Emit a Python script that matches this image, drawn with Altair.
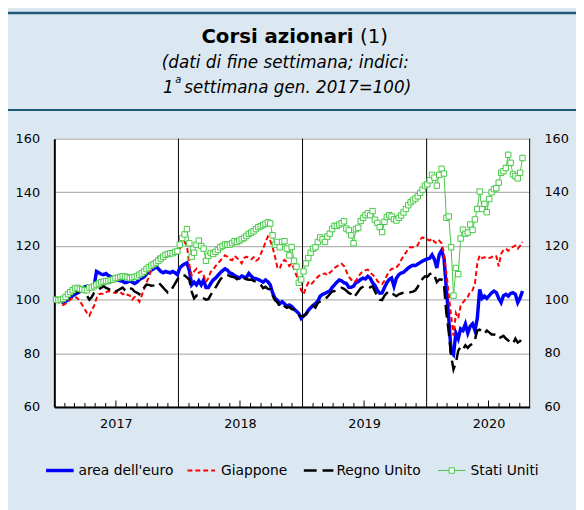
import altair as alt
import pandas as pd

# ---------------- data (weekly, end of week; index 1st week Jan 2017 = 100) ----------------
euro_2017 = [100, 100, 99.5, 99, 99.3, 100, 100.5, 101.5, 102, 102.5, 103, 104, 104.8, 105, 104.7, 104.3, 105,
             110.5, 110, 109.5, 109.3, 109.7, 109, 108.5, 108, 107.5, 107.3, 107, 106.8, 106.3, 106.5, 107,
             106.5, 106, 106.5, 107.5, 108, 108.5, 109.5, 110.5, 111, 111.5, 112.3, 111.5, 110.5, 110, 110.5,
             110.2, 110, 110.5, 110, 109.3]
euro_2018 = [111.8, 112.7, 113.3, 113.7, 111, 105.5, 106.5, 105.5, 107, 105.5, 107.3, 104.5, 104.5, 106, 107.3,
             108, 109, 110, 110.8, 111.5, 111, 110, 109.6, 109, 108.5, 108, 108.8, 108.5, 108.3, 109.8, 108.8,
             108, 107.8, 107.5, 107, 106.5, 107.3, 106.7, 105.5, 102.5, 100.5, 99.8, 98.5, 99.2, 98.5, 97.5, 98,
             97.5, 96.5, 95.7, 94.8, 93]
euro_2019 = [94, 94.6, 96, 97, 97.9, 98.5, 99.5, 101.3, 102, 102.3, 102.8, 103.2, 104.5, 105.5, 106.5, 107.3,
             107, 106.3, 106, 104.6, 104.6, 105, 106.3, 106.7, 107.5, 108, 107.7, 108.7, 108, 106.3, 105.3,
             103.5, 102.4, 102.5, 104.5, 106.3, 107.5, 108.1, 105, 108, 109.3, 109.9, 110.2, 111, 111.8, 112.4,
             112.8, 112.7, 113.3, 113.8, 114.4, 114.8]
euro_2020 = [115.2, 115.4, 116.7, 115, 111.8, 116.8, 118.3, 115.5, 104, 93, 80.5, 79.5, 87.5, 85.4, 89.1, 88.5,
             90.9, 87.5, 90, 91, 88.5, 93, 103.8, 100.5, 101.3, 100.5, 101.5, 102.5, 103.2, 102.6, 100.5, 98.9,
             101.5, 102, 101.3, 102.3, 102.6, 102, 98.9, 100.7, 103.2]

japan_2017 = [100, 99, 98.5, 98, 98.5, 99, 100, 100.7, 101, 100.5, 99.5, 98, 96.5, 95, 94, 96, 97.7, 100.5, 102,
              102.3, 102, 102.7, 103.2, 103, 102.6, 102.5, 103, 102.8, 102, 102.5, 101.8, 101.5, 100, 101, 100.5,
              99.2, 101.5, 104, 106.3, 108.5, 111, 113, 114.5, 116, 115, 114.8, 116.7, 117, 117.5, 118, 118.3, 119]
japan_2018 = [119, 120.5, 121.5, 120, 113, 109, 110.5, 111.5, 110, 110.5, 109, 106.5, 108, 110.4, 111, 112.5,
              113.5, 114.5, 115.5, 116.5, 116, 115, 114.7, 116.3, 115.5, 114.7, 113.5, 115.5, 116, 115.5, 115,
              115.8, 114.5, 115, 117, 119, 121.5, 123.5, 122, 119.5, 116, 112, 111.5, 114, 114.8, 114, 112.5,
              113.5, 111.5, 109, 106.5, 103.5]
japan_2019 = [102, 104.5, 106.3, 105.5, 106.5, 107.5, 108.5, 109.2, 109.5, 109.8, 109, 110, 110.8, 111.8, 112.4,
              113, 113.4, 112.5, 110.5, 108.5, 107.5, 106.5, 107, 108.5, 109.8, 110.5, 111, 111.2, 110, 109.3,
              108.5, 107, 106, 105.8, 107, 109, 110.5, 111.5, 111.5, 112, 113, 114.8, 116.3, 117.5, 119, 119.6,
              119.5, 119.8, 120.3, 122.5, 123.2, 122.8]
japan_2020 = [122.5, 122, 122.8, 121.5, 121, 122, 121, 117.3, 110, 102, 94, 86.6, 95, 93, 97.7, 99, 100, 101,
              103, 103.5, 106, 113.5, 116.5, 115.5, 115.8, 115.3, 115.5, 115.8, 116.5, 116.2, 112.4, 117, 118.5,
              119, 118.2, 119.2, 119.7, 120.2, 119, 120, 121.6]

uk_2017 = [100, 100, 100, 99.5, 100.5, 100.5, 101.5, 102.5, 102.8, 102.8, 103.2, 103, 102.6, 101.5, 100, 101,
           102.5, 103.2, 103.8, 104.5, 105, 104.4, 104, 103.5, 102.6, 103, 103.5, 104, 104.5, 103.5, 103.2, 104.2,
           104, 103, 102.6, 102, 103.5, 104.5, 105.6, 105.5, 105.2, 105.3, 106, 106.3, 105.5, 104.5, 103.5, 102.6,
           103, 104.5, 106, 107.5]
uk_2018 = [108.8, 109.2, 109, 108.3, 107.4, 103, 100.5, 101.5, 101.5, 100.8, 100.5, 100, 100.2, 101.8, 103.2,
           104.5, 106, 107.5, 108.5, 109, 109.2, 108.8, 108.5, 108.3, 107.6, 108.3, 108.6, 108, 107.6, 107.4,
           107.5, 107, 106.7, 106.3, 105.5, 104.3, 104.8, 104, 103.9, 101.5, 99.8, 99, 97.5, 98.2, 97.5, 96.9,
           97.3, 96.5, 96.3, 95.2, 94.3, 93.8]
uk_2019 = [93.8, 94.6, 95.8, 96.6, 97.7, 97, 98.8, 99.3, 99.8, 100.1, 101, 102, 103, 103.2, 103.5, 104, 104.4,
           104, 103.3, 102.5, 102, 100.8, 101.8, 103, 104.3, 104.8, 105.2, 105, 104.6, 105, 103, 101.3, 100, 99.8,
           101.5, 102.5, 103.2, 102.8, 101.8, 101.3, 102, 102.3, 102.6, 102.8, 102.5, 102.8, 103, 103.5, 104.8,
           106.5, 107.8, 108.7]
uk_2020 = [108.5, 109.5, 110, 109, 106.5, 107.5, 107.5, 105.5, 95, 88, 79, 74, 76.5, 81, 82.4, 81.5, 83, 82, 83,
           83.6, 85, 88.5, 88.8, 88, 87.3, 88.5, 87.8, 87, 87, 86.8, 85.5, 86, 86.5, 85.5, 84.8, 84.2, 83.6, 85.5,
           84, 84.5, 86]

us_2017 = [100, 99.8, 100, 100.3, 101, 102, 102.8, 103.5, 104.2, 104.4, 104, 103.8, 103.5, 103.5, 104.5, 104.5,
           105, 105.6, 106, 106.5, 106.7, 106.9, 107, 107.3, 107.5, 108, 108.2, 108.5, 108.7, 108.6, 108.4, 108,
           108.3, 108.5, 108.6, 109.3, 109.8, 110.5, 111.4, 112, 112.7, 113.2, 113.8, 114.5, 115.3, 116, 116.7,
           117, 117.3, 117.3, 117.8, 118]
us_2018 = [120.5, 123, 124.3, 126.3, 121, 116, 117.5, 120.5, 122, 120, 119, 114.5, 116.3, 117.4, 117, 117.8,
           118.5, 119.5, 120, 120.6, 120.5, 120.5, 121.1, 121.8, 121.5, 122, 122.5, 123, 123.7, 124.5, 125, 125.5,
           126.3, 127, 127.4, 127.8, 128.3, 128.8, 128.4, 124, 120.5, 121.5, 119.5, 121.5, 121.8, 119, 116.5,
           119.6, 114.5, 112.3, 106.3, 107.5]
us_2019 = [110.5, 113.5, 115.5, 117.5, 119, 119.5, 121.5, 123.2, 122.5, 121.5, 123.5, 124.6, 126.3, 127.5, 127.5,
           128, 128.5, 129.2, 126.5, 125.8, 124, 121, 126.3, 126.8, 129.3, 130.5, 131.5, 132.2, 131.5, 133, 129.8,
           128.6, 127, 125.2, 129, 130.8, 131.5, 131, 130, 129.5, 130.5, 131.4, 132.5, 133.8, 135.2, 136.3, 137,
           137.7, 138.5, 139.8, 141, 142.5]
us_2020 = [143, 144.5, 146.5, 145.5, 142.5, 146.5, 148.8, 147, 130.5, 131, 119.5, 101.5, 111.8, 109.5, 122.8,
           126.1, 124.6, 125, 128, 126, 129.9, 133.8, 140.3, 133.8, 135.7, 132.6, 137.5, 140, 141.2, 141.5, 143.6,
           147.3, 147.9, 149.1, 154, 151, 146.7, 146, 145.2, 147.3, 152.8]

series_names = ["area dell'euro", "Giappone", "Regno Unito", "Stati Uniti"]
y_ticks = [60, 80, 100, 120, 140, 160]
year_labels = ["2017", "2018", "2019", "2020"]
title_main = "Corsi azionari"
title_note = "(1)"
subtitle_1 = "(dati di fine settimana; indici:"
subtitle_2a = "1"
subtitle_2b = "a"
subtitle_2c = "settimana gen. 2017=100)"

euro = euro_2017 + euro_2018 + euro_2019 + euro_2020
japan = japan_2017 + japan_2018 + japan_2019 + japan_2020
uk = uk_2017 + uk_2018 + uk_2019 + uk_2020
us = us_2017 + us_2018 + us_2019 + us_2020
dates = pd.date_range("2017-01-06", periods=len(euro), freq="7D")

def frame(vals):
    return pd.DataFrame({"date": dates, "value": vals})

# ---------------- styling ----------------
FONT = "DejaVu Sans"
BG = "#dce8f1"
DARK = "#1d5878"
BLUE = "#0000ff"
RED = "#ff0000"
BLACK = "#000000"
GREEN = "#44c844"
W, H = 482, 272

x_scale = alt.Scale(domain=[alt.DateTime(year=2017, month=1, date=1),
                            alt.DateTime(year=2020, month=10, date=30)])
y_scale = alt.Scale(domain=[60, 160], nice=False, zero=False)

x_axis = alt.Axis(values=[alt.DateTime(year=int(s), month=7, date=1) for s in year_labels],
                  format="%Y", ticks=False, tickSize=0, grid=False, domain=True,
                  domainColor="black", domainWidth=2, labelFont=FONT, labelFontSize=13,
                  labelColor="black", labelPadding=11, title=None, labelFlush=False,
                  labelOverlap=False)
y_axis = alt.Axis(values=y_ticks, ticks=False, tickSize=0, grid=True, gridColor="#b4b4b4",
                  gridWidth=1.2, domain=True, domainColor="black", domainWidth=2,
                  labelFont=FONT, labelFontSize=13, labelColor="black", labelPadding=15,
                  title=None)

X = alt.X("date:T", scale=x_scale, axis=x_axis)
Y = alt.Y("value:Q", scale=y_scale, axis=y_axis)

# axis decorations
month_starts = [d for d in pd.date_range("2017-02-01", "2020-10-01", freq="MS") if d.month != 1]
minor = pd.DataFrame({"date": [d for d in month_starts if d.month != 7]})
major = pd.DataFrame({"date": [d for d in month_starts if d.month == 7]})
years = pd.DataFrame({"date": pd.to_datetime([f"{s}-01-01" for s in year_labels[1:]])})

minor_ticks = alt.Chart(minor).mark_rule(color="black", strokeWidth=1).encode(
    x=X, y=alt.value(H), y2=alt.value(H - 4))
major_ticks = alt.Chart(major).mark_rule(color="black", strokeWidth=1).encode(
    x=X, y=alt.value(H), y2=alt.value(H - 6.5))
year_lines = alt.Chart(years).mark_rule(color="black", strokeWidth=1).encode(
    x=X, y=alt.value(0), y2=alt.value(H))

one = pd.DataFrame({"k": [0]})
right_border = alt.Chart(one).mark_rule(color="black", strokeWidth=1).encode(
    x=alt.value(W), y=alt.value(0), y2=alt.value(H))

right_labels = alt.Chart(pd.DataFrame({"value": y_ticks, "label": [str(v) for v in y_ticks]})).mark_text(
    align="left", baseline="middle", font=FONT, fontSize=13, color="black").encode(
    x=alt.value(W + 15), y=Y, text="label:N")

# data series
euro_line = alt.Chart(frame(euro)).mark_line(color=BLUE, strokeWidth=3.5).encode(x=X, y=Y)
japan_line = alt.Chart(frame(japan)).mark_line(color=RED, strokeWidth=2, strokeDash=[5, 3]).encode(x=X, y=Y)
uk_line = alt.Chart(frame(uk)).mark_line(color=BLACK, strokeWidth=2.5, strokeDash=[13, 6]).encode(x=X, y=Y)
us_line = alt.Chart(frame(us)).mark_line(color=GREEN, strokeWidth=1).encode(x=X, y=Y)
us_pts = alt.Chart(frame(us)).mark_point(shape="square", filled=True, fill="white", stroke=GREEN,
                                         strokeWidth=1, size=30, opacity=1).encode(x=X, y=Y)

# header
def txt(s, x, y, size, align="left", weight="normal", style="normal"):
    return alt.Chart(pd.DataFrame({"t": [s]})).mark_text(
        align=align, baseline="alphabetic", font=FONT, fontSize=size, fontWeight=weight,
        fontStyle=style, color="black").encode(x=alt.value(x), y=alt.value(y), text="t:N")

def hline(x1, x2, y, color, width, dash=None):
    kw = dict(color=color, strokeWidth=width)
    if dash:
        kw["strokeDash"] = dash
    return alt.Chart(one).mark_rule(**kw).encode(x=alt.value(x1), x2=alt.value(x2), y=alt.value(y))

header = [
    hline(-47, W + 47, -127.5, DARK, 2.5),
    hline(-47, W + 47, -29, DARK, 2),
    txt(title_main, 303.3, -97, 20, align="right", weight="bold"),
    txt(title_note, 310, -97, 20),
    txt(subtitle_1, 109, -72, 17, style="italic"),
    txt(subtitle_2a, 121, -46, 17, align="right", style="italic"),
    txt(subtitle_2b, 122.5, -56, 10, style="italic"),
    txt(subtitle_2c, 131.7, -46, 17, style="italic"),
]

# legend
LY = 336.5
legend = [
    hline(-8.4, 19.6, LY, BLUE, 3.5),
    txt(series_names[0], 24.5, LY + 5, 14),
    hline(135, 163, LY, RED, 2, [5, 3]),
    txt(series_names[1], 169, LY + 5, 14),
    hline(253, 283, LY, BLACK, 2.5, [13, 6]),
    txt(series_names[2], 286, LY + 5, 14),
    hline(389, 417, LY, GREEN, 1),
    alt.Chart(one).mark_point(shape="square", filled=True, fill="white", stroke=GREEN, strokeWidth=1,
                              size=30, opacity=1).encode(x=alt.value(403), y=alt.value(LY)),
    txt(series_names[3], 422, LY + 5, 14),
]

chart = alt.layer(
    minor_ticks, major_ticks, year_lines, right_border, right_labels,
    euro_line, japan_line, uk_line, us_line, us_pts,
    *header, *legend
).properties(
    width=W, height=H,
    autosize=alt.AutoSizeParams(type="none"),
    padding={"left": 47, "top": 129, "right": 47, "bottom": 101},
    background=BG,
).configure_view(stroke=None, fill="white")

chart.save("out.html", embed_options={"renderer": "svg", "actions": False})
